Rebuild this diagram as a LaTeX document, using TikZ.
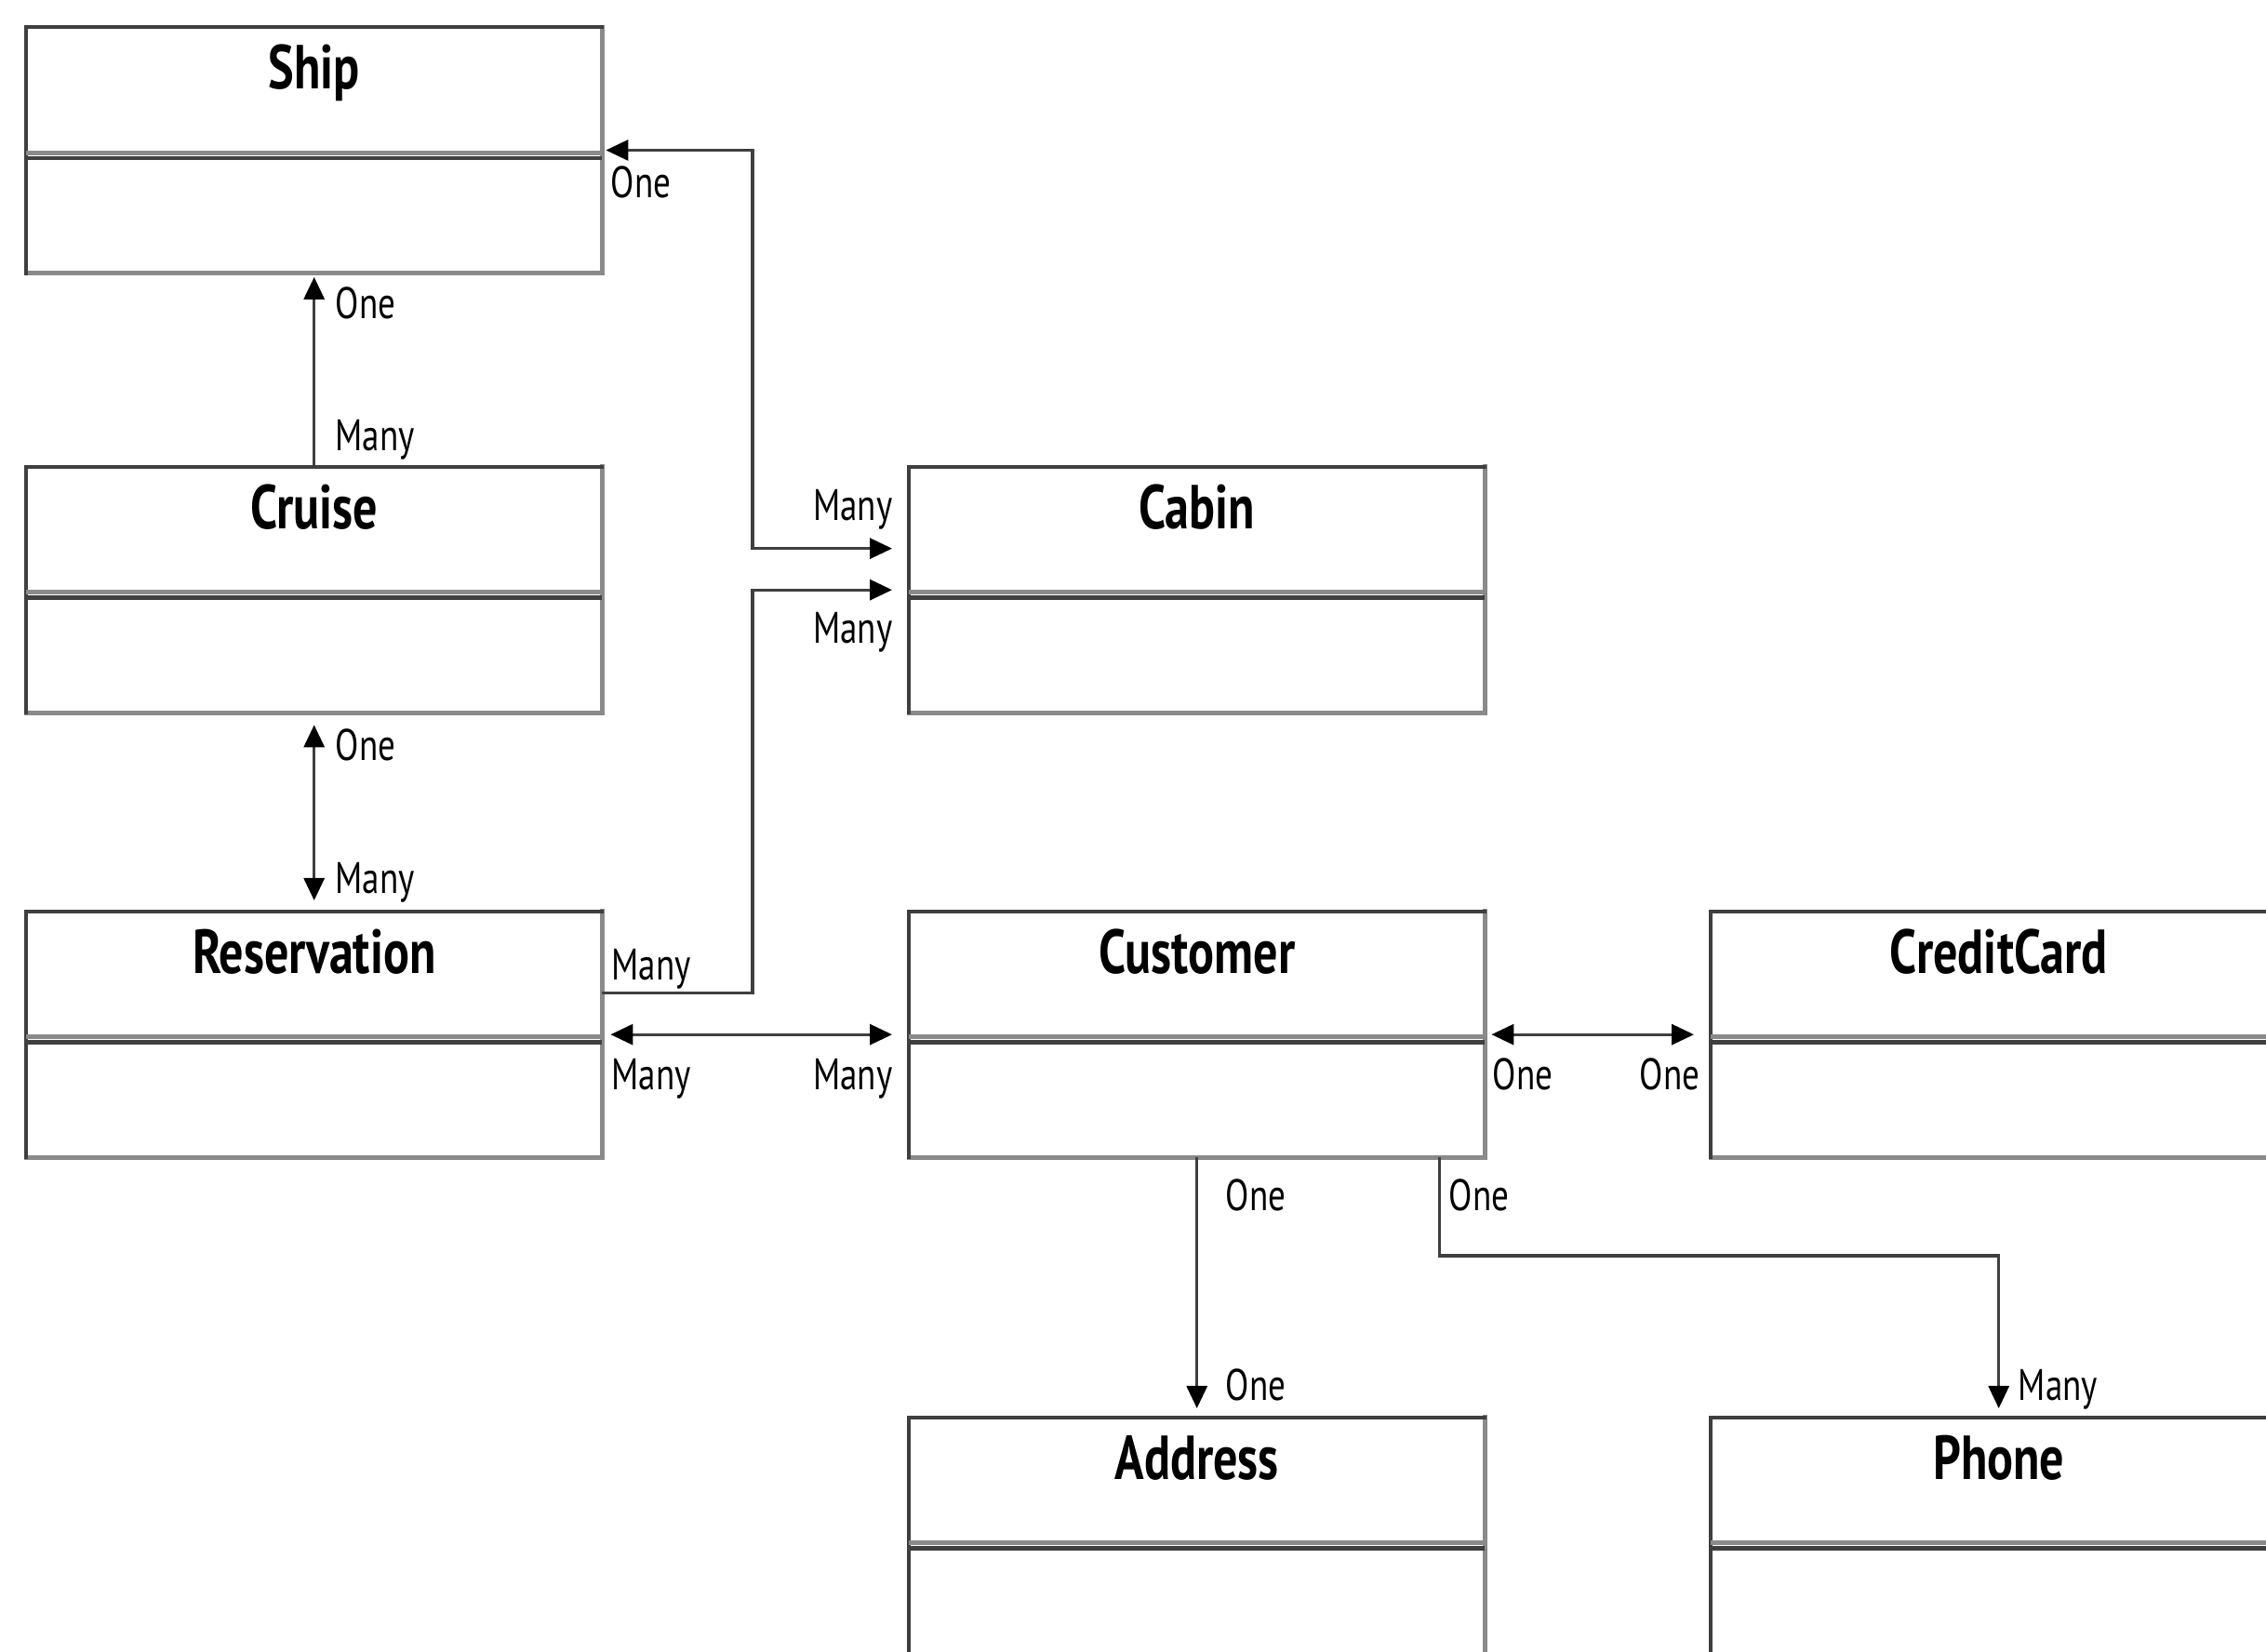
\documentclass[tikz,border=0pt]{standalone}
\usepackage{fontspec}
\setmainfont[FakeStretch=0.78]{PT Sans}
\usetikzlibrary{arrows.meta,positioning}

\definecolor{boxdark}{HTML}{3F3F3F}
\definecolor{boxgray}{HTML}{8A8A8A}
\definecolor{boxlight}{HTML}{BDBDBD}
\newcommand{\titlefont}{\fontsize{19pt}{22pt}\selectfont\bfseries}
\newcommand{\multfont}{\fontsize{13.5pt}{15pt}\selectfont}

\tikzset{
  classbox/.style={rectangle, minimum width=6.18cm, minimum height=2.63cm, inner sep=0pt, anchor=north west},
  classname/.style={font=\titlefont, anchor=base, inner sep=0pt},
  edgedark/.style={draw=boxdark, line width=0.04cm, line cap=rect},
  edgegray/.style={draw=boxgray, line width=0.05cm, line cap=rect},
  divgray/.style={draw=boxgray, line width=0.05cm},
  divdark/.style={draw=boxdark, line width=0.045cm},
  assoc/.style={draw=boxdark, line width=0.032cm},
  mult/.style={font=\multfont, text=black, inner sep=0pt}
}

\begin{document}
\begin{tikzpicture}[>={Triangle[length=0.24cm,width=0.22cm,color=black]}]
\useasboundingbox (0,0) rectangle (24.36,17.76);
\clip (0,0) rectangle (24.36,17.76);

% classes
\foreach \n/\x/\y/\t in {ship/0.28/17.465/Ship, cruise/0.28/12.74/Cruise,
    reservation/0.28/7.96/Reservation, cabin/9.77/12.74/Cabin,
    customer/9.77/7.96/Customer, creditcard/18.39/7.96/CreditCard,
    address/9.77/2.52/Address, phone/18.39/2.52/Phone}{
  \node[classbox] (\n) at (\x,\y) {};
  \draw[edgegray] (\n.north east) -- (\n.south east) -- (\n.south west);
  \draw[edgedark] (\n.south west) -- (\n.north west) -- (\n.north east);
  \draw[divgray] ([yshift=-1.35cm]\n.north west) -- ([yshift=-1.35cm]\n.north east);
  \draw[divdark] ([yshift=-1.405cm]\n.north west) -- ([yshift=-1.405cm]\n.north east);
  \node[classname] (\n-name) at ([yshift=-0.665cm]\n.north) {\t};
}

% helper points
\coordinate (trunk) at (8.09,0);
\coordinate (shipout) at ([yshift=-1.32cm]ship.north east);
\coordinate (cabinin) at ([yshift=0.445cm]cabin.west);
\coordinate (resout) at ([yshift=0.445cm]reservation.east);
\coordinate (custout) at ([xshift=2.61cm]customer.south);
\coordinate (phonebus) at (0,4.26);

% associations
\draw[assoc,->,shorten >=0.04cm] (cruise.north) -- (ship.south);
\draw[assoc,<->,shorten <=0.04cm,shorten >=0.18cm] (shipout) -| (trunk |- cabinin) -- (cabinin);
\draw[assoc,->,shorten >=0.18cm] (resout) -| (trunk |- cabin.west) -- (cabin.west);
\draw[assoc,<->,shorten <=0.13cm,shorten >=0.12cm] (cruise.south) -- (reservation.north);
\draw[assoc,<->,shorten <=0.09cm,shorten >=0.18cm] (reservation.east) -- (customer.west);
\draw[assoc,<->,shorten <=0.07cm,shorten >=0.18cm] (customer.east) -- (creditcard.west);
\draw[assoc,->,shorten >=0.1cm] (customer.south) -- (address.north);
\draw[assoc,->,shorten >=0.1cm] (custout) -- (custout |- phonebus) -| (phone.north);

% multiplicities
\node[mult,anchor=base west] (m1) at (3.60,14.33) {One};
\node[mult,anchor=base west] (m2) at (3.60,12.91) {Many};
\node[mult,anchor=base west] (m3) at (6.56,15.63) {One};
\node[mult,anchor=base east] (m4) at (9.60,12.16) {Many};
\node[mult,anchor=base east] (m5) at (9.60,10.84) {Many};
\node[mult,anchor=base west] (m6) at (6.57,7.22) {Many};
\node[mult,anchor=base west] (m7) at (3.60,9.58) {One};
\node[mult,anchor=base west] (m8) at (3.60,8.15) {Many};
\node[mult,anchor=base west] (m9) at (6.57,6.04) {Many};
\node[mult,anchor=base east] (m10) at (9.60,6.04) {Many};
\node[mult,anchor=base west] (m11) at (16.04,6.04) {One};
\node[mult,anchor=base east] (m12) at (18.28,6.04) {One};
\node[mult,anchor=base west] (m13) at (13.17,4.74) {One};
\node[mult,anchor=base west] (m14) at (13.17,2.70) {One};
\node[mult,anchor=base west] (m15) at (15.57,4.74) {One};
\node[mult,anchor=base west] (m16) at (21.69,2.70) {Many};
\end{tikzpicture}
\end{document}
